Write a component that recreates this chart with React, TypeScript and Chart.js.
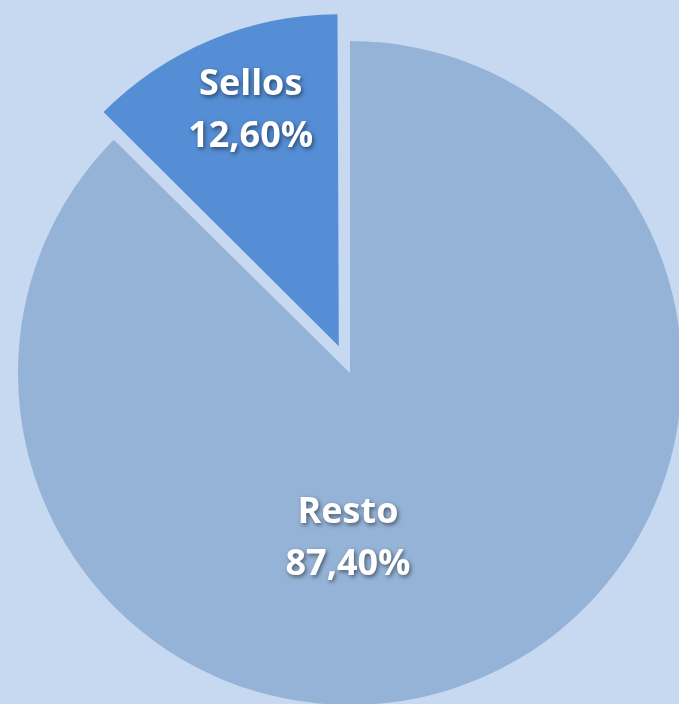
import React, { useEffect, useRef } from "react";
import { Chart, registerables } from "chart.js";

Chart.register(...registerables);

const categories = ["Resto", "Sellos"];
const shares = [87.4, 12.6];
const sliceColors = ["#95B3D7", "#558ED5"];
const sliceOffsets = [0, 116];

const BG = "#C6D9F1";

const labelPlugin = {
  id: "pieLabels",
  afterDatasetUpdate(chart: any) {
    // keep the exploded slice at the same visual radius as the others
    const meta = chart.getDatasetMeta(0);
    meta.data.forEach((arc: any, i: number) => {
      const off = (sliceOffsets[i] || 0) / 4;
      const circ = arc.endAngle - arc.startAngle;
      const fix = 1 - Math.sin(Math.min(Math.PI, circ || 0));
      arc.outerRadius = arc.outerRadius - off * fix;
    });
  },
  afterDatasetsDraw(chart: any, _args: any, opts: any) {
    const ctx = chart.ctx;
    const meta = chart.getDatasetMeta(0);
    const data = chart.data.datasets[0].data as number[];
    const labels = chart.data.labels as string[];
    ctx.save();
    ctx.font = `bold ${opts.fontSize}px ${opts.fontFamily}`;
    ctx.fillStyle = "#FFFFFF";
    ctx.textAlign = "center";
    ctx.textBaseline = "alphabetic";
    ctx.shadowColor = "rgba(0,0,0,0.5)";
    ctx.shadowBlur = 4;
    ctx.shadowOffsetX = 1.5;
    ctx.shadowOffsetY = 2;
    meta.data.forEach((arc: any, i: number) => {
      const mid = (arc.startAngle + arc.endAngle) / 2;
      const off = (sliceOffsets[i] || 0) / 4;
      const cx = arc.x + Math.cos(mid) * off;
      const cy = arc.y + Math.sin(mid) * off;
      const place = opts.placement[i];
      const a = (place.angle * Math.PI) / 180;
      const r = arc.outerRadius * place.frac;
      const ax = cx + Math.cos(a) * r;
      const ay = cy + Math.sin(a) * r;
      const capH = opts.fontSize * 0.72;
      const half = opts.lineGap / 2;
      const val = data[i].toFixed(2).replace(".", ",") + "%";
      ctx.fillText(labels[i], ax, ay - half + capH / 2);
      ctx.fillText(val, ax, ay + half + capH / 2);
    });
    ctx.restore();
  },
};

export default function App() {
  const ref = useRef<HTMLCanvasElement>(null);
  useEffect(() => {
    document.body.style.margin = "0";
    const chart = new Chart(ref.current as HTMLCanvasElement, {
      type: "pie",
      data: {
        labels: categories,
        datasets: [
          {
            data: shares,
            backgroundColor: sliceColors,
            borderWidth: 0,
            offset: sliceOffsets,
          },
        ],
      },
      options: {
        responsive: false,
        animation: false,
        radius: 332,
        layout: { padding: 0 },
        plugins: {
          legend: { display: false },
          tooltip: { enabled: false },
          pieLabels: {
            fontSize: 36,
            fontFamily: "'Open Sans', Lato, sans-serif",
            lineGap: 52,
            placement: [
              { angle: 90.7, frac: 0.49 },
              { angle: -110.3, frac: 0.785 },
            ],
          },
        } as any,
      } as any,
      plugins: [labelPlugin],
    });
    return () => chart.destroy();
  }, []);
  return (
    <div
      style={{
        position: "fixed",
        left: 0,
        top: 0,
        width: 679,
        height: 704,
        overflow: "hidden",
        background: BG,
      }}
    >
      <canvas
        ref={ref}
        width={700}
        height={746}
        style={{ position: "absolute", left: 0, top: 0, width: 700, height: 746 }}
      />
    </div>
  );
}
